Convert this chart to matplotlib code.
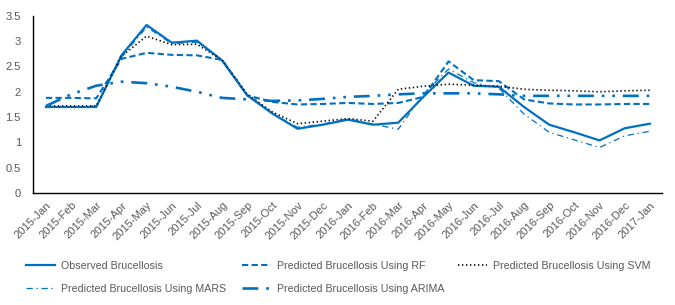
import numpy as np
import matplotlib
matplotlib.use("Agg")
import matplotlib.pyplot as plt

plt.rcParams['font.family'] = ['Liberation Sans', 'DejaVu Sans']

months = ['2015-Jan', '2015-Feb', '2015-Mar', '2015-Apr', '2015-May', '2015-Jun',
          '2015-Jul', '2015-Aug', '2015-Sep', '2015-Oct', '2015-Nov', '2015-Dec',
          '2016-Jan', '2016-Feb', '2016-Mar', '2016-Apr', '2016-May', '2016-Jun',
          '2016-Jul', '2016-Aug', '2016-Sep', '2016-Oct', '2016-Nov', '2016-Dec',
          '2017-Jan']

observed = [1.70, 1.70, 1.70, 2.72, 3.32, 2.97, 3.01, 2.62, 1.93, 1.57, 1.27, 1.35,
            1.45, 1.35, 1.39, 1.90, 2.38, 2.12, 2.10, 1.70, 1.35, 1.20, 1.04, 1.28,
            1.37]
pred_rf = [1.88, 1.88, 1.87, 2.65, 2.77, 2.73, 2.72, 2.63, 1.93, 1.80, 1.75, 1.76,
           1.78, 1.76, 1.78, 1.90, 2.60, 2.23, 2.21, 1.85, 1.77, 1.75, 1.75, 1.76,
           1.76]
pred_svm = [1.72, 1.72, 1.72, 2.70, 3.10, 2.93, 2.94, 2.63, 1.95, 1.60, 1.37, 1.42,
            1.47, 1.42, 2.05, 2.11, 2.15, 2.13, 2.11, 2.05, 2.03, 2.02, 2.00, 2.02,
            2.03]
pred_mars = [1.70, 1.70, 1.72, 2.68, 3.28, 2.95, 2.98, 2.62, 1.93, 1.57, 1.30, 1.36,
             1.47, 1.36, 1.26, 1.95, 2.45, 2.18, 2.07, 1.56, 1.20, 1.05, 0.90, 1.13,
             1.22]
pred_arima = [1.72, 1.95, 2.12, 2.20, 2.17, 2.10, 2.00, 1.88, 1.85, 1.82, 1.83, 1.86,
              1.90, 1.92, 1.95, 1.97, 1.97, 1.97, 1.95, 1.92, 1.92, 1.92, 1.92, 1.92,
              1.92]

blue = '#0070C0'
grey = '#595959'

fig = plt.figure(figsize=(6.75, 3.05), dpi=100)
ax = fig.add_axes([0.0494, 0.367, 0.932, 0.581])

x = np.arange(len(months))
l_obs, = ax.plot(x, observed, color=blue, lw=1.6, label='Observed Brucellosis')
l_rf, = ax.plot(x, pred_rf, color=blue, lw=1.5, dashes=(3, 1.6),
                label='Predicted Brucellosis Using RF')
l_svm, = ax.plot(x, pred_svm, color='black', lw=1.2, dashes=(0.8, 1.6),
                 label='Predicted Brucellosis Using SVM')
l_mars, = ax.plot(x, pred_mars, color=blue, lw=0.9, dashes=(5, 3, 1, 3),
                  label='Predicted Brucellosis Using MARS')
l_arima, = ax.plot(x, pred_arima, color=blue, lw=1.9, dashes=(6, 3, 1, 3, 1, 3),
                   label='Predicted Brucellosis Using ARIMA')

ax.set_xlim(-0.5, len(months) - 0.5)
ax.set_ylim(0, 3.5)
ax.set_yticks(np.arange(0, 3.51, 0.5))
ax.set_yticklabels(['0', '0.5', '1', '1.5', '2', '2.5', '3', '3.5'])
ax.set_xticks(x)
ax.set_xticklabels(months, rotation=45, ha='right', rotation_mode='anchor')
ax.tick_params(axis='both', length=0, colors=grey, labelsize=8)
ax.tick_params(axis='y', pad=9)
ax.tick_params(axis='x', pad=5)
for s in ['top', 'right']:
    ax.spines[s].set_visible(False)
ax.spines['left'].set_linewidth(1.0)
ax.spines['bottom'].set_linewidth(1.0)

# legend entries placed on a fixed grid, like the Excel original
W, H = 675.0, 305.0
cols = [26, 242, 458]
rows = [266, 289]
grid = [(l_obs, 0, 0), (l_rf, 0, 1), (l_svm, 0, 2), (l_mars, 1, 0), (l_arima, 1, 1)]
for h, r, c in grid:
    fig.legend([h], [h.get_label()], loc='center left',
               bbox_to_anchor=(cols[c] / W, 1 - rows[r] / H),
               frameon=False, fontsize=7.7, labelcolor=grey,
               handlelength=2.7, handletextpad=0.55,
               borderpad=0, borderaxespad=0)

fig.savefig('out.png', dpi=100)
